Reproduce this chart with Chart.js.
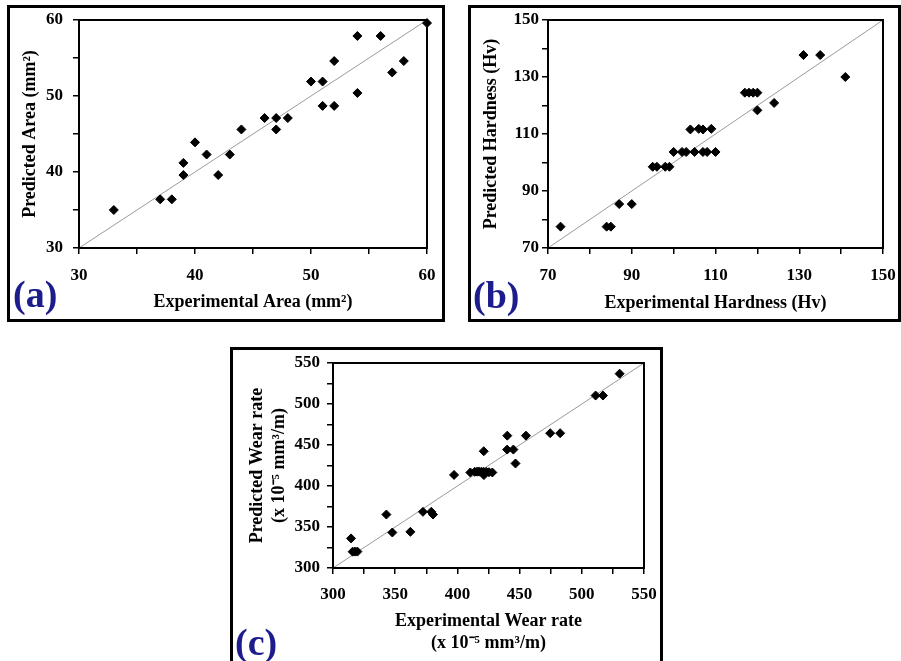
<!DOCTYPE html>
<html>
<head>
<meta charset="utf-8">
<script src="https://cdn.jsdelivr.net/npm/chart.js@4.4.1/dist/chart.umd.min.js"></script>
<style>
  body { margin: 0; background: #fff; width: 901px; height: 661px; overflow: hidden; position: relative; }
  .panel { position: absolute; border: 3px solid #000; box-sizing: border-box; background: #fff; }
  .panel canvas { display: block; }
  .tag { position: absolute; font-family: "Liberation Serif", "Times New Roman", serif; font-weight: bold;
         font-size: 38px; line-height: 1; color: #1c1c8c; }
</style>
</head>
<body>
<div class="panel" style="left:7px; top:5px; width:438px; height:317px;"><canvas id="chartA" width="432" height="311"></canvas></div>
<div class="panel" style="left:468px; top:5px; width:433px; height:317px;"><canvas id="chartB" width="427" height="311"></canvas></div>
<div class="panel" style="left:230px; top:347px; width:433px; height:330px;"><canvas id="chartC" width="427" height="311"></canvas></div>
<div class="tag" style="left:13px; top:275px;">(a)</div>
<div class="tag" style="left:473px; top:276px;">(b)</div>
<div class="tag" style="left:235px; top:623px;">(c)</div>

<script>
// (a) area
const areaExp  = [33, 37, 38, 39, 39, 40, 41, 42, 43, 44, 46, 47, 47, 48, 50, 51, 51, 52, 52, 54, 54, 56, 57, 58, 60];
const areaPred = [35, 36.4, 36.4, 41.2, 39.6, 43.9, 42.3, 39.6, 42.3, 45.6, 47.1, 47.1, 45.6, 47.1, 51.9, 51.9, 48.7, 48.7, 54.6, 57.9, 50.4, 57.9, 53.1, 54.6, 59.6];
const areaTicks = [30, 40, 50, 60];

// (b) hardness
const hardExp  = [73, 84, 85, 87, 90, 95, 96, 98, 99, 100, 102, 103, 105, 107, 108, 110, 104, 106, 107, 109, 117, 118, 119, 120, 120, 124, 131, 135, 141];
const hardPred = [77.5, 77.5, 77.5, 85.4, 85.4, 98.5, 98.5, 98.5, 98.5, 103.7, 103.7, 103.7, 103.7, 103.7, 103.7, 103.7, 111.6, 111.8, 111.6, 111.8, 124.5, 124.5, 124.5, 124.5, 118.3, 120.9, 137.7, 137.7, 130];
const hardTicks = [70, 90, 110, 130, 150];

// (c) wear rate
const wearExp  = [314.5, 315.8, 317.7, 319.6, 342.9, 347.7, 362.2, 372.3, 379, 380.4, 397.3,
                  410.4, 413.9, 415.8, 417.4, 419.3, 421.1, 423.3, 425.4, 428.1, 421.2, 421.3,
                  440.1, 440, 445, 446.7, 455.1, 474.6, 482.6, 511.1, 517, 530.4];
const wearPred = [336.1, 319.9, 320, 320, 365.2, 343.3, 344.1, 368.5, 368.5, 365.2, 413.5,
                  416.5, 417.3, 417.5, 417.5, 417.5, 417.3, 417.2, 416.8, 416.5, 442.4, 413.3,
                  461.4, 444.4, 444.4, 427.5, 461.4, 464.4, 464.4, 510.3, 510.3, 537];
const wearTicks = [300, 350, 400, 450, 500, 550];

Chart.defaults.font.family = '"Liberation Serif", "Times New Roman", serif';
Chart.defaults.font.weight = 'bold';
Chart.defaults.color = '#000';

// frame around the plot area (top + right sides too)
const frame = {
    id: 'frame',
    afterDatasetsDraw(chart) {
        const a = chart.chartArea, ctx = chart.ctx;
        ctx.save();
        ctx.strokeStyle = '#000';
        ctx.lineWidth = 2;
        ctx.strokeRect(a.left, a.top, a.right - a.left, a.bottom - a.top);
        ctx.restore();
    }
};

function makePanel(id, o) {
    const pts = o.xs.map((x, i) => ({ x: x, y: o.ys[i] }));
    const lo = o.ticks[0], hi = o.ticks[o.ticks.length - 1];
    const axis = (extra) => Object.assign({
        type: 'linear', min: lo, max: hi,
        border: { color: '#000', width: 2 },
        grid: { drawOnChartArea: false, drawTicks: true, tickLength: 6, color: '#000', lineWidth: 1.5 },
        ticks: { stepSize: o.step, autoSkip: false, maxRotation: 0, font: { size: 17 },
                 callback: v => o.ticks.includes(v) ? v : '' }
    }, extra);

    const xs = axis({ title: { display: true, text: o.xTitle, font: { size: 18 }, padding: { bottom: o.xTitlePad } } });
    xs.ticks.padding = o.xTickPad;
    xs.afterFit = s => { s.height = o.xH; s.paddingLeft = 0; s.paddingRight = 0; };

    const ys = axis({ title: { display: true, text: o.yTitle, font: { size: 18 }, padding: { top: o.yTitlePad } } });
    ys.ticks.padding = o.yTickPad;
    ys.afterFit = s => { s.width = o.yW; s.paddingTop = 0; s.paddingBottom = 0; };

    new Chart(document.getElementById(id), {
        type: 'scatter',
        data: {
            datasets: [
                { data: pts, pointStyle: 'rectRot', pointRadius: 4.5, backgroundColor: '#000', borderColor: '#000', clip: false },
                { data: [{ x: lo, y: lo }, { x: hi, y: hi }], showLine: true, pointRadius: 0, borderColor: '#9a9a9a', borderWidth: 1 }
            ]
        },
        options: {
            responsive: false, animation: false,
            layout: { padding: { left: 0, top: o.top, right: o.right, bottom: 0 } },
            plugins: { legend: { display: false }, tooltip: { enabled: false } },
            scales: { x: xs, y: ys }
        },
        plugins: [frame]
    });
}

makePanel('chartA', {
    xs: areaExp, ys: areaPred, ticks: areaTicks, step: 5,
    xTitle: 'Experimental Area (mm²)', yTitle: 'Predicted Area (mm²)',
    top: 12, right: 15, yW: 69, xH: 71,
    xTickPad: 11, yTickPad: 10, xTitlePad: 6, yTitlePad: 10
});

makePanel('chartB', {
    xs: hardExp, ys: hardPred, ticks: hardTicks, step: 10,
    xTitle: 'Experimental Hardness (Hv)', yTitle: 'Predicted Hardness (Hv)',
    top: 12, right: 15, yW: 77, xH: 71,
    xTickPad: 11, yTickPad: 3, xTitlePad: 5, yTitlePad: 10
});

makePanel('chartC', {
    xs: wearExp, ys: wearPred, ticks: wearTicks, step: 25,
    xTitle: ['Experimental Wear rate', '(x 10⁻⁵ mm³/m)'],
    yTitle: ['Predicted Wear rate', '(x 10⁻⁵ mm³/m)'],
    top: 13, right: 16, yW: 100, xH: 93,
    xTickPad: 10, yTickPad: 7, xTitlePad: 7, yTitlePad: 14
});
</script>
</body>
</html>
